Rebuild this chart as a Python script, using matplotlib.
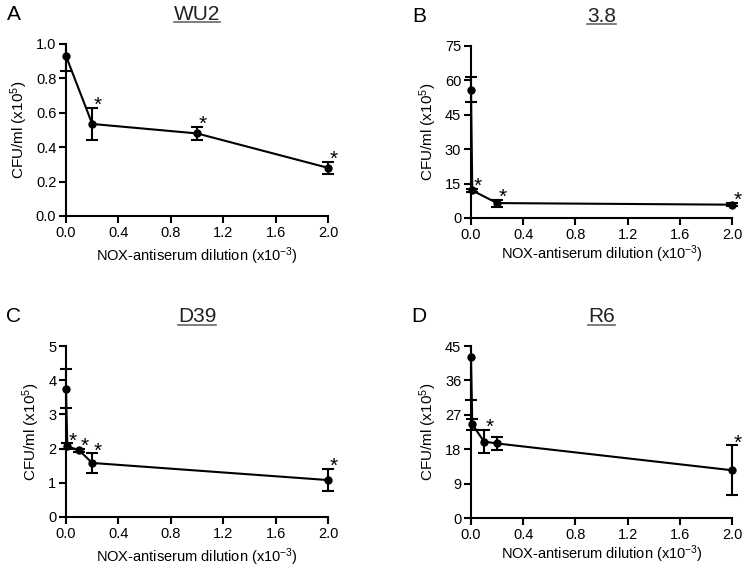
import matplotlib.pyplot as plt
from matplotlib.lines import Line2D
from matplotlib.patches import Rectangle

plt.rcParams["font.family"] = ["Liberation Sans", "DejaVu Sans"]
plt.rcParams["mathtext.fontset"] = "custom"
plt.rcParams["mathtext.rm"] = "Liberation Sans"
plt.rcParams["mathtext.it"] = "Liberation Sans"

# panel data: dilution (x10^-3), CFU/ml (x10^5), SEM, significance flag
a_x = [0.0, 0.2, 1.0, 2.0]
a_y = [0.93, 0.535, 0.48, 0.28]
a_err = [0.085, 0.095, 0.04, 0.035]
a_sig = [0, 1, 1, 1]

b_x = [0.0, 0.01, 0.2, 2.0]
b_y = [56.0, 12.0, 6.5, 5.8]
b_err = [5.5, 0.8, 1.5, 0.6]
b_sig = [0, 1, 1, 1]

c_x = [0.0, 0.01, 0.1, 0.2, 2.0]
c_y = [3.75, 2.07, 1.95, 1.58, 1.08]
c_err = [0.57, 0.08, 0.05, 0.28, 0.33]
c_sig = [0, 1, 1, 1, 1]

d_x = [0.0, 0.01, 0.1, 0.2, 2.0]
d_y = [42.0, 24.5, 20.0, 19.5, 12.5]
d_err = [11.0, 1.5, 3.0, 1.8, 6.5]
d_sig = [0, 0, 1, 0, 1]

panels = [
    ("A", "WU2", a_x, a_y, a_err, a_sig, [0, 0.2, 0.4, 0.6, 0.8, 1.0], "{:.1f}"),
    ("B", "3.8", b_x, b_y, b_err, b_sig, [0, 15, 30, 45, 60, 75], "{:g}"),
    ("C", "D39", c_x, c_y, c_err, c_sig, [0, 1, 2, 3, 4, 5], "{:g}"),
    ("D", "R6", d_x, d_y, d_err, d_sig, [0, 9, 18, 27, 36, 45], "{:g}"),
]
xticks = [0.0, 0.4, 0.8, 1.2, 1.6, 2.0]

fig = plt.figure(figsize=(7.45, 5.69), dpi=100)
rects = [
    [0.0886, 0.6204, 0.3517, 0.3023],
    [0.6322, 0.6169, 0.3503, 0.3023],
    [0.0886, 0.0914, 0.3517, 0.3005],
    [0.6322, 0.0896, 0.3503, 0.3023],
]
xpads = [4, 1, 4, 1]

renderer = fig.canvas.get_renderer()
for (letter, name, x, y, err, sig, yt, fmt), rect, xp in zip(panels, rects, xpads):
    ax = fig.add_axes(rect)
    eb = ax.errorbar(x, y, yerr=err, color="black", lw=1.5, elinewidth=1.5,
                     capsize=4, capthick=1.5, fmt="none")
    # clip error bars at the top of the axes only, caps may spill sideways
    clip = Rectangle((-0.1, -0.1), 1.2, 1.1, transform=ax.transAxes)
    for art in eb.lines[1] + eb.lines[2]:
        art.set_clip_path(clip)
    ax.plot(x, y, color="black", lw=1.5, marker="o", ms=5, clip_on=False, zorder=3)
    for xi, yi, ei, s in zip(x, y, err, sig):
        if s:
            ax.annotate("*", (xi, yi + ei), xytext=(4, -5), textcoords="offset points",
                        fontsize=15, ha="center", va="bottom", annotation_clip=False)
    ax.set_xlim(0, 2.0)
    ax.set_ylim(yt[0], yt[-1])
    ax.set_xticks(xticks)
    ax.set_xticklabels(["{:.1f}".format(t) for t in xticks])
    ax.set_yticks(yt)
    ax.set_yticklabels([fmt.format(t) for t in yt])
    for s in ["top", "right"]:
        ax.spines[s].set_visible(False)
    for s in ["left", "bottom"]:
        ax.spines[s].set_linewidth(1.5)
    ax.tick_params(direction="out", length=5, width=1.5, labelsize=10.5, pad=2)
    ax.set_ylabel("CFU/ml (x10$^5$)", fontsize=11)
    ax.set_xlabel("NOX-antiserum dilution (x10$^{-3}$)", fontsize=10.5, labelpad=xp)
    t = ax.text(0.5, 1.14, name, transform=ax.transAxes, ha="center", va="baseline",
                fontsize=15, color="#222222")
    bb = t.get_window_extent(renderer).transformed(ax.transAxes.inverted())
    ax.add_line(Line2D([bb.x0, bb.x1], [1.125, 1.125], transform=ax.transAxes,
                       color="#666666", lw=1.2, clip_on=False))
    ax.text(-0.2, 1.14, letter, transform=ax.transAxes, ha="center", va="baseline",
            fontsize=15)

fig.savefig("out.png", dpi=100)
print("saved")
